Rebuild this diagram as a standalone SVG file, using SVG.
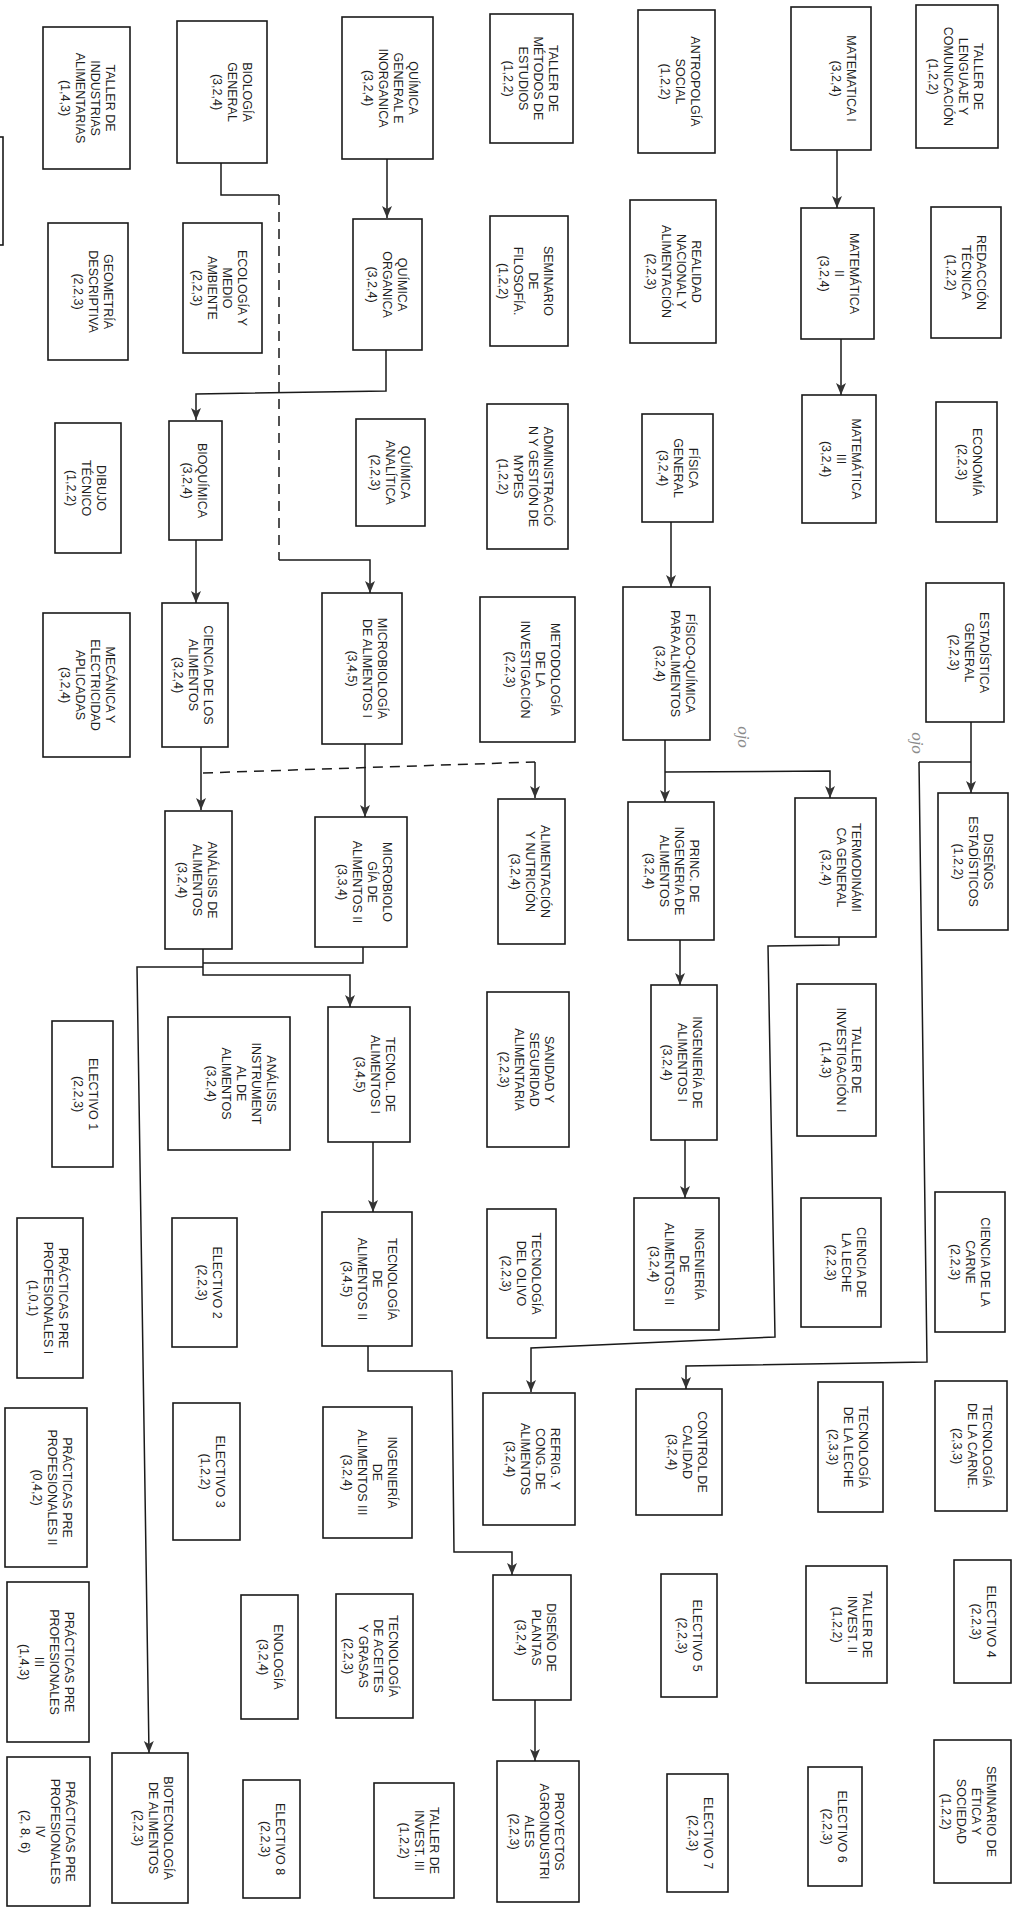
<svg xmlns="http://www.w3.org/2000/svg" width="1016" height="1909" viewBox="0 0 1016 1909">
<style>
.b{fill:#fff;stroke:#1a1a1a;stroke-width:1.6}
.t{font-family:"Liberation Sans",Arial,sans-serif;font-size:12.5px;fill:#1e1e1e;text-anchor:middle}
.c{fill:none;stroke:#1a1a1a;stroke-width:1.5}
.a{marker-end:url(#ah)}
.d{fill:none;stroke:#1a1a1a;stroke-width:1.5;stroke-dasharray:10,7}
.h{font-family:"Liberation Serif",serif;font-style:italic;font-size:17px;fill:#8a8a8a;text-anchor:middle}
</style>
<defs>
<marker id="ah" markerUnits="userSpaceOnUse" markerWidth="12" markerHeight="12" viewBox="0 0 12 12" refX="12" refY="6" orient="auto">
<path d="M0,1 L12,6 L0,11 L3,6 Z" fill="#333"/>
</marker>
</defs>
<rect width="1016" height="1909" fill="#fff"/>
<g id="connectors">
<path class="c" d="M221,163 V195 H279"/>
<path class="d" d="M279,195 V560"/>
<path class="c a" d="M279,560 H370 V593"/>
<path class="c a" d="M387,159 V218"/>
<path class="c a" d="M386,350 V391 L196,394 V420"/>
<path class="c a" d="M196,540 V603"/>
<path class="c a" d="M201,747 V810"/>
<path class="d" d="M203,773 L535,762"/>
<path class="c a" d="M535,762 V798"/>
<path class="c a" d="M365,744 V817"/>
<path class="c a" d="M837,150 V208"/>
<path class="c a" d="M841,339 V395"/>
<path class="c a" d="M671,522 V587"/>
<path class="c a" d="M665,740 V802"/>
<path class="c a" d="M665,772 L830,771 V798"/>
<path class="c a" d="M971,722 V793"/>
<path class="c" d="M919,762 H971"/>
<path class="c a" d="M919,762 L927,1362 L686,1366 V1389"/>
<path class="c a" d="M839,937 V945 L768,946 L775,1337 L531,1348 V1392"/>
<path class="c a" d="M680,940 V985"/>
<path class="c a" d="M685,1140 V1198"/>
<path class="c" d="M363,947 V963 H203"/>
<path class="c a" d="M203,949 V975 H350 V1007"/>
<path class="c a" d="M203,967 H137 L149,1753"/>
<path class="c a" d="M373,1142 V1212"/>
<path class="c a" d="M368,1346 V1371 H452 L454,1552 H512 V1575"/>
<path class="c a" d="M535,1700 V1761"/>
</g>
<g id="n-partial"><rect class="b" x="-20" y="137" width="23" height="108"/></g>
<g id="n-taller-industrias"><rect class="b" x="43" y="27" width="87" height="142"/><text class="t" transform="translate(105.5,98) rotate(90)"><tspan x="0">TALLER DE</tspan><tspan x="0" dy="15">INDUSTRIAS</tspan><tspan x="0" dy="15">ALIMENTARIAS</tspan><tspan x="0" dy="15">(1,4,3)</tspan></text></g>
<g id="n-biologia"><rect class="b" x="177" y="21" width="90" height="142"/><text class="t" transform="translate(242.5,92) rotate(90)"><tspan x="0">BIOLOGÍA</tspan><tspan x="0" dy="15">GENERAL</tspan><tspan x="0" dy="15">(3,2,4)</tspan></text></g>
<g id="n-quimica-general"><rect class="b" x="342" y="17" width="91" height="142"/><text class="t" transform="translate(408.5,88) rotate(90)"><tspan x="0">QUÍMICA</tspan><tspan x="0" dy="15">GENERAL E</tspan><tspan x="0" dy="15">INORGANICA</tspan><tspan x="0" dy="15">(3,2,4)</tspan></text></g>
<g id="n-metodos-estudios"><rect class="b" x="490" y="14" width="83" height="129"/><text class="t" transform="translate(548.5,78.5) rotate(90)"><tspan x="0">TALLER DE</tspan><tspan x="0" dy="15">MÉTODOS DE</tspan><tspan x="0" dy="15">ESTUDIOS</tspan><tspan x="0" dy="15">(1,2,2)</tspan></text></g>
<g id="n-antropologia"><rect class="b" x="638" y="10" width="77" height="143"/><text class="t" transform="translate(690.5,81.5) rotate(90)"><tspan x="0">ANTROPOLGÍA</tspan><tspan x="0" dy="15">SOCIAL</tspan><tspan x="0" dy="15">(1,2,2)</tspan></text></g>
<g id="n-matematica1"><rect class="b" x="791" y="7" width="80" height="143"/><text class="t" transform="translate(846.5,78.5) rotate(90)"><tspan x="0">MATEMATICA I</tspan><tspan x="0" dy="15">(3,2,4)</tspan></text></g>
<g id="n-lenguaje"><rect class="b" x="916" y="5" width="82" height="143"/><text class="t" transform="translate(973.5,76.5) rotate(90)"><tspan x="0">TALLER DE</tspan><tspan x="0" dy="15">LENGUAJE Y</tspan><tspan x="0" dy="15">COMUNICACIÓN</tspan><tspan x="0" dy="15">(1,2,2)</tspan></text></g>
<g id="n-geometria"><rect class="b" x="48" y="223" width="80" height="137"/><text class="t" transform="translate(103.5,291.5) rotate(90)"><tspan x="0">GEOMETRÍA</tspan><tspan x="0" dy="15">DESCRIPTIVA</tspan><tspan x="0" dy="15">(2,2,3)</tspan></text></g>
<g id="n-ecologia"><rect class="b" x="183" y="223" width="79" height="130"/><text class="t" transform="translate(237.5,288) rotate(90)"><tspan x="0">ECOLOGÍA Y</tspan><tspan x="0" dy="15">MEDIO</tspan><tspan x="0" dy="15">AMBIENTE</tspan><tspan x="0" dy="15">(2,2,3)</tspan></text></g>
<g id="n-quimica-organica"><rect class="b" x="353" y="219" width="69" height="131"/><text class="t" transform="translate(397.5,284.5) rotate(90)"><tspan x="0">QUÍMICA</tspan><tspan x="0" dy="15">ORGANICA</tspan><tspan x="0" dy="15">(3,2,4)</tspan></text></g>
<g id="n-filosofia"><rect class="b" x="490" y="216" width="78" height="130"/><text class="t" transform="translate(543.5,281) rotate(90)"><tspan x="0">SEMINARIO</tspan><tspan x="0" dy="15">DE</tspan><tspan x="0" dy="15">FILOSOFÍA.</tspan><tspan x="0" dy="15">(1,2,2)</tspan></text></g>
<g id="n-realidad"><rect class="b" x="630" y="200" width="86" height="143"/><text class="t" transform="translate(691.5,271.5) rotate(90)"><tspan x="0">REALIDAD</tspan><tspan x="0" dy="15">NACIONAL Y</tspan><tspan x="0" dy="15">ALIMENTACIÓN</tspan><tspan x="0" dy="15">(2,2,3)</tspan></text></g>
<g id="n-matematica2"><rect class="b" x="801" y="208" width="73" height="131"/><text class="t" transform="translate(849.5,273.5) rotate(90)"><tspan x="0">MATEMÁTICA</tspan><tspan x="0" dy="15">II</tspan><tspan x="0" dy="15">(3,2,4)</tspan></text></g>
<g id="n-redaccion"><rect class="b" x="931" y="207" width="70" height="131"/><text class="t" transform="translate(976.5,272.5) rotate(90)"><tspan x="0">REDACCIÓN</tspan><tspan x="0" dy="15">TÉCNICA</tspan><tspan x="0" dy="15">(1,2,2)</tspan></text></g>
<g id="n-dibujo"><rect class="b" x="55" y="423" width="66" height="130"/><text class="t" transform="translate(96.5,488) rotate(90)"><tspan x="0">DIBUJO</tspan><tspan x="0" dy="15">TÉCNICO</tspan><tspan x="0" dy="15">(1,2,2)</tspan></text></g>
<g id="n-bioquimica"><rect class="b" x="169" y="421" width="53" height="119"/><text class="t" transform="translate(197.5,480.5) rotate(90)"><tspan x="0">BIOQUÍMICA</tspan><tspan x="0" dy="15">(3,2,4)</tspan></text></g>
<g id="n-quimica-analitica"><rect class="b" x="356" y="419" width="69" height="107"/><text class="t" transform="translate(400.5,472.5) rotate(90)"><tspan x="0">QUÍMICA</tspan><tspan x="0" dy="15">ANALÍTICA</tspan><tspan x="0" dy="15">(2,2,3)</tspan></text></g>
<g id="n-administracion"><rect class="b" x="487" y="404" width="81" height="145"/><text class="t" transform="translate(543.5,476.5) rotate(90)"><tspan x="0">ADMINISTRACIÓ</tspan><tspan x="0" dy="15">N Y GESTIÓN DE</tspan><tspan x="0" dy="15">MYPES</tspan><tspan x="0" dy="15">(1,2,2)</tspan></text></g>
<g id="n-fisica"><rect class="b" x="642" y="414" width="71" height="108"/><text class="t" transform="translate(688.5,468) rotate(90)"><tspan x="0">FÍSICA</tspan><tspan x="0" dy="15">GENERAL</tspan><tspan x="0" dy="15">(3,2,4)</tspan></text></g>
<g id="n-matematica3"><rect class="b" x="802" y="395" width="74" height="128"/><text class="t" transform="translate(851.5,459) rotate(90)"><tspan x="0">MATEMÁTICA</tspan><tspan x="0" dy="15">III</tspan><tspan x="0" dy="15">(3,2,4)</tspan></text></g>
<g id="n-economia"><rect class="b" x="936" y="402" width="61" height="120"/><text class="t" transform="translate(972.5,462) rotate(90)"><tspan x="0">ECONOMÍA</tspan><tspan x="0" dy="15">(2,2,3)</tspan></text></g>
<g id="n-mecanica"><rect class="b" x="43" y="613" width="87" height="144"/><text class="t" transform="translate(105.5,685) rotate(90)"><tspan x="0">MECÁNICA Y</tspan><tspan x="0" dy="15">ELECTRICIDAD</tspan><tspan x="0" dy="15">APLICADAS</tspan><tspan x="0" dy="15">(3,2,4)</tspan></text></g>
<g id="n-ciencia-alimentos"><rect class="b" x="162" y="603" width="66" height="144"/><text class="t" transform="translate(203.5,675) rotate(90)"><tspan x="0">CIENCIA DE LOS</tspan><tspan x="0" dy="15">ALIMENTOS</tspan><tspan x="0" dy="15">(3,2,4)</tspan></text></g>
<g id="n-microbiologia1"><rect class="b" x="322" y="593" width="80" height="151"/><text class="t" transform="translate(377.5,668.5) rotate(90)"><tspan x="0">MICROBIOLOGÍA</tspan><tspan x="0" dy="15">DE ALIMENTOS I</tspan><tspan x="0" dy="15">(3,4,5)</tspan></text></g>
<g id="n-metodologia"><rect class="b" x="480" y="597" width="95" height="145"/><text class="t" transform="translate(550.5,669.5) rotate(90)"><tspan x="0">METODOLOGÍA</tspan><tspan x="0" dy="15">DE LA</tspan><tspan x="0" dy="15">INVESTIGACIÓN</tspan><tspan x="0" dy="15">(2,2,3)</tspan></text></g>
<g id="n-fisicoquimica"><rect class="b" x="623" y="587" width="87" height="153"/><text class="t" transform="translate(685.5,663.5) rotate(90)"><tspan x="0">FÍSICO-QUÍMICA</tspan><tspan x="0" dy="15">PARA ALIMENTOS</tspan><tspan x="0" dy="15">(3,2,4)</tspan></text></g>
<g id="n-estadistica"><rect class="b" x="926" y="583" width="78" height="139"/><text class="t" transform="translate(979.5,652.5) rotate(90)"><tspan x="0">ESTADÍSTICA</tspan><tspan x="0" dy="15">GENERAL</tspan><tspan x="0" dy="15">(2,2,3)</tspan></text></g>
<g id="n-analisis"><rect class="b" x="165" y="811" width="67" height="138"/><text class="t" transform="translate(207.5,880) rotate(90)"><tspan x="0">ANÁLISIS DE</tspan><tspan x="0" dy="15">ALIMENTOS</tspan><tspan x="0" dy="15">(3,2,4)</tspan></text></g>
<g id="n-microbiologia2"><rect class="b" x="315" y="817" width="92" height="130"/><text class="t" transform="translate(382.5,882) rotate(90)"><tspan x="0">MICROBIOLO</tspan><tspan x="0" dy="15">GÍA DE</tspan><tspan x="0" dy="15">ALIMENTOS II</tspan><tspan x="0" dy="15">(3,3,4)</tspan></text></g>
<g id="n-alimentacion"><rect class="b" x="498" y="799" width="67" height="145"/><text class="t" transform="translate(540.5,871.5) rotate(90)"><tspan x="0">ALIMENTACIÓN</tspan><tspan x="0" dy="15">Y NUTRICIÓN</tspan><tspan x="0" dy="15">(3,2,4)</tspan></text></g>
<g id="n-principios"><rect class="b" x="628" y="802" width="86" height="138"/><text class="t" transform="translate(689.5,871) rotate(90)"><tspan x="0">PRINC. DE</tspan><tspan x="0" dy="15">INGENERIA DE</tspan><tspan x="0" dy="15">ALIMENTOS</tspan><tspan x="0" dy="15">(3,2,4)</tspan></text></g>
<g id="n-termodinamica"><rect class="b" x="795" y="798" width="81" height="139"/><text class="t" transform="translate(851.5,867.5) rotate(90)"><tspan x="0">TERMODINÁMI</tspan><tspan x="0" dy="15">CA GENERAL</tspan><tspan x="0" dy="15">(3,2,4)</tspan></text></g>
<g id="n-disenos"><rect class="b" x="938" y="793" width="70" height="137"/><text class="t" transform="translate(983.5,861.5) rotate(90)"><tspan x="0">DISEÑOS</tspan><tspan x="0" dy="15">ESTADÍSTICOS</tspan><tspan x="0" dy="15">(1,2,2)</tspan></text></g>
<g id="n-electivo1"><rect class="b" x="52" y="1021" width="61" height="146"/><text class="t" transform="translate(88.5,1094) rotate(90)"><tspan x="0">ELECTIVO 1</tspan><tspan x="0" dy="15">(2,2,3)</tspan></text></g>
<g id="n-instrumental"><rect class="b" x="168" y="1017" width="122" height="133"/><text class="t" transform="translate(266.5,1083.5) rotate(90)"><tspan x="0">ANÁLISIS</tspan><tspan x="0" dy="15">INSTRUMENT</tspan><tspan x="0" dy="15">AL DE</tspan><tspan x="0" dy="15">ALIMENTOS</tspan><tspan x="0" dy="15">(3,2,4)</tspan></text></g>
<g id="n-tecnol1"><rect class="b" x="328" y="1007" width="82" height="135"/><text class="t" transform="translate(385.5,1074.5) rotate(90)"><tspan x="0">TECNOL. DE</tspan><tspan x="0" dy="15">ALIMENTOS I</tspan><tspan x="0" dy="15">(3,4,5)</tspan></text></g>
<g id="n-sanidad"><rect class="b" x="487" y="992" width="82" height="155"/><text class="t" transform="translate(544.5,1069.5) rotate(90)"><tspan x="0">SANIDAD Y</tspan><tspan x="0" dy="15">SEGURIDAD</tspan><tspan x="0" dy="15">ALIMENTARIA</tspan><tspan x="0" dy="15">(2,2,3)</tspan></text></g>
<g id="n-ingenieria1"><rect class="b" x="651" y="985" width="66" height="155"/><text class="t" transform="translate(692.5,1062.5) rotate(90)"><tspan x="0">INGENIERÍA DE</tspan><tspan x="0" dy="15">ALIMENTOS I</tspan><tspan x="0" dy="15">(3,2,4)</tspan></text></g>
<g id="n-taller-inv1"><rect class="b" x="797" y="984" width="79" height="152"/><text class="t" transform="translate(851.5,1060) rotate(90)"><tspan x="0">TALLER DE</tspan><tspan x="0" dy="15">INVESTIGACIÓN I</tspan><tspan x="0" dy="15">(1,4,3)</tspan></text></g>
<g id="n-practicas1"><rect class="b" x="17" y="1218" width="66" height="160"/><text class="t" transform="translate(58.5,1298) rotate(90)"><tspan x="0">PRÁCTICAS PRE</tspan><tspan x="0" dy="15">PROFESIONALES I</tspan><tspan x="0" dy="15">(1,0,1)</tspan></text></g>
<g id="n-electivo2"><rect class="b" x="172" y="1218" width="65" height="129"/><text class="t" transform="translate(212.5,1282.5) rotate(90)"><tspan x="0">ELECTIVO 2</tspan><tspan x="0" dy="15">(2,2,3)</tspan></text></g>
<g id="n-tecnologia2"><rect class="b" x="322" y="1212" width="90" height="134"/><text class="t" transform="translate(387.5,1279) rotate(90)"><tspan x="0">TECNOLOGÍA</tspan><tspan x="0" dy="15">DE</tspan><tspan x="0" dy="15">ALIMENTOS II</tspan><tspan x="0" dy="15">(3,4,5)</tspan></text></g>
<g id="n-olivo"><rect class="b" x="487" y="1209" width="69" height="129"/><text class="t" transform="translate(531.5,1273.5) rotate(90)"><tspan x="0">TECNOLOGÍA</tspan><tspan x="0" dy="15">DEL OLIVO</tspan><tspan x="0" dy="15">(2,2,3)</tspan></text></g>
<g id="n-ingenieria2"><rect class="b" x="634" y="1198" width="85" height="132"/><text class="t" transform="translate(694.5,1264) rotate(90)"><tspan x="0">INGENIERÍA</tspan><tspan x="0" dy="15">DE</tspan><tspan x="0" dy="15">ALIMENTOS II</tspan><tspan x="0" dy="15">(3,2,4)</tspan></text></g>
<g id="n-ciencia-leche"><rect class="b" x="801" y="1198" width="80" height="129"/><text class="t" transform="translate(856.5,1262.5) rotate(90)"><tspan x="0">CIENCIA DE</tspan><tspan x="0" dy="15">LA LECHE</tspan><tspan x="0" dy="15">(2,2,3)</tspan></text></g>
<g id="n-ciencia-carne"><rect class="b" x="935" y="1192" width="70" height="140"/><text class="t" transform="translate(980.5,1262) rotate(90)"><tspan x="0">CIENCIA DE LA</tspan><tspan x="0" dy="15">CARNE</tspan><tspan x="0" dy="15">(2,2,3)</tspan></text></g>
<g id="n-practicas2"><rect class="b" x="5" y="1408" width="82" height="159"/><text class="t" transform="translate(62.5,1487.5) rotate(90)"><tspan x="0">PRÁCTICAS PRE</tspan><tspan x="0" dy="15">PROFESIONALES II</tspan><tspan x="0" dy="15">(0,4,2)</tspan></text></g>
<g id="n-electivo3"><rect class="b" x="173" y="1403" width="67" height="137"/><text class="t" transform="translate(215.5,1471.5) rotate(90)"><tspan x="0">ELECTIVO 3</tspan><tspan x="0" dy="15">(1,2,2)</tspan></text></g>
<g id="n-ingenieria3"><rect class="b" x="323" y="1407" width="89" height="131"/><text class="t" transform="translate(387.5,1472.5) rotate(90)"><tspan x="0">INGENIERÍA</tspan><tspan x="0" dy="15">DE</tspan><tspan x="0" dy="15">ALIMENTOS III</tspan><tspan x="0" dy="15">(3,2,4)</tspan></text></g>
<g id="n-refrigeracion"><rect class="b" x="483" y="1393" width="92" height="132"/><text class="t" transform="translate(550.5,1459) rotate(90)"><tspan x="0">REFRIG. Y</tspan><tspan x="0" dy="15">CONG. DE</tspan><tspan x="0" dy="15">ALIMENTOS</tspan><tspan x="0" dy="15">(3,2,4)</tspan></text></g>
<g id="n-control"><rect class="b" x="636" y="1389" width="86" height="126"/><text class="t" transform="translate(697.5,1452) rotate(90)"><tspan x="0">CONTROL DE</tspan><tspan x="0" dy="15">CALIDAD</tspan><tspan x="0" dy="15">(3,2,4)</tspan></text></g>
<g id="n-tec-leche"><rect class="b" x="818" y="1382" width="65" height="130"/><text class="t" transform="translate(858.5,1447) rotate(90)"><tspan x="0">TECNOLOGÍA</tspan><tspan x="0" dy="15">DE LA LECHE</tspan><tspan x="0" dy="15">(2,3,3)</tspan></text></g>
<g id="n-tec-carne"><rect class="b" x="935" y="1381" width="72" height="130"/><text class="t" transform="translate(982.5,1446) rotate(90)"><tspan x="0">TECNOLOGÍA</tspan><tspan x="0" dy="15">DE LA CARNE.</tspan><tspan x="0" dy="15">(2,3,3)</tspan></text></g>
<g id="n-practicas3"><rect class="b" x="7" y="1582" width="82" height="160"/><text class="t" transform="translate(64.5,1662) rotate(90)"><tspan x="0">PRÁCTICAS PRE</tspan><tspan x="0" dy="15">PROFESIONALES</tspan><tspan x="0" dy="15">III</tspan><tspan x="0" dy="15">(1,4,3)</tspan></text></g>
<g id="n-enologia"><rect class="b" x="241" y="1595" width="57" height="124"/><text class="t" transform="translate(273.5,1657) rotate(90)"><tspan x="0">ENOLOGÍA</tspan><tspan x="0" dy="15">(3,2,4)</tspan></text></g>
<g id="n-aceites"><rect class="b" x="336" y="1594" width="77" height="124"/><text class="t" transform="translate(388.5,1656) rotate(90)"><tspan x="0">TECNOLOGÍA</tspan><tspan x="0" dy="15">DE ACEITES</tspan><tspan x="0" dy="15">Y GRASAS</tspan><tspan x="0" dy="15">(2,2,3)</tspan></text></g>
<g id="n-diseno-plantas"><rect class="b" x="493" y="1575" width="78" height="125"/><text class="t" transform="translate(546.5,1637.5) rotate(90)"><tspan x="0">DISEÑO DE</tspan><tspan x="0" dy="15">PLANTAS</tspan><tspan x="0" dy="15">(3,2,4)</tspan></text></g>
<g id="n-electivo5"><rect class="b" x="661" y="1574" width="56" height="123"/><text class="t" transform="translate(692.5,1635.5) rotate(90)"><tspan x="0">ELECTIVO 5</tspan><tspan x="0" dy="15">(2,2,3)</tspan></text></g>
<g id="n-taller-inv2"><rect class="b" x="806" y="1566" width="81" height="117"/><text class="t" transform="translate(862.5,1624.5) rotate(90)"><tspan x="0">TALLER DE</tspan><tspan x="0" dy="15">INVEST. II</tspan><tspan x="0" dy="15">(1,2,2)</tspan></text></g>
<g id="n-electivo4"><rect class="b" x="954" y="1560" width="57" height="123"/><text class="t" transform="translate(986.5,1621.5) rotate(90)"><tspan x="0">ELECTIVO 4</tspan><tspan x="0" dy="15">(2,2,3)</tspan></text></g>
<g id="n-practicas4"><rect class="b" x="7" y="1757" width="83" height="149"/><text class="t" transform="translate(65.5,1831.5) rotate(90)"><tspan x="0">PRÁCTICAS PRE</tspan><tspan x="0" dy="15">PROFESIONALES</tspan><tspan x="0" dy="15">IV</tspan><tspan x="0" dy="15">(2, 8, 6)</tspan></text></g>
<g id="n-biotecnologia"><rect class="b" x="112" y="1753" width="76" height="150"/><text class="t" transform="translate(163.5,1828) rotate(90)"><tspan x="0">BIOTECNOLOGÍA</tspan><tspan x="0" dy="15">DE ALIMENTOS</tspan><tspan x="0" dy="15">(2,2,3)</tspan></text></g>
<g id="n-electivo8"><rect class="b" x="243" y="1780" width="57" height="118"/><text class="t" transform="translate(275.5,1839) rotate(90)"><tspan x="0">ELECTIVO 8</tspan><tspan x="0" dy="15">(2,2,3)</tspan></text></g>
<g id="n-taller-inv3"><rect class="b" x="374" y="1783" width="80" height="115"/><text class="t" transform="translate(429.5,1840.5) rotate(90)"><tspan x="0">TALLER DE</tspan><tspan x="0" dy="15">INVEST. III</tspan><tspan x="0" dy="15">(1,2,2)</tspan></text></g>
<g id="n-proyectos"><rect class="b" x="497" y="1761" width="82" height="141"/><text class="t" transform="translate(554.5,1831.5) rotate(90)"><tspan x="0">PROYECTOS</tspan><tspan x="0" dy="15">AGROINDUSTRI</tspan><tspan x="0" dy="15">ALES</tspan><tspan x="0" dy="15">(2,2,3)</tspan></text></g>
<g id="n-electivo7"><rect class="b" x="667" y="1774" width="61" height="118"/><text class="t" transform="translate(703.5,1833) rotate(90)"><tspan x="0">ELECTIVO 7</tspan><tspan x="0" dy="15">(2,2,3)</tspan></text></g>
<g id="n-electivo6"><rect class="b" x="808" y="1767" width="54" height="119"/><text class="t" transform="translate(837.5,1826.5) rotate(90)"><tspan x="0">ELECTIVO 6</tspan><tspan x="0" dy="15">(2,2,3)</tspan></text></g>
<g id="n-etica"><rect class="b" x="934" y="1740" width="77" height="143"/><text class="t" transform="translate(986.5,1811.5) rotate(90)"><tspan x="0">SEMINARIO DE</tspan><tspan x="0" dy="15">ÉTICA Y</tspan><tspan x="0" dy="15">SOCIEDAD</tspan><tspan x="0" dy="15">(1,2,2)</tspan></text></g>
<g id="annotations">
<text class="h" transform="translate(738,737) rotate(90)">ojo</text>
<text class="h" transform="translate(912,743) rotate(90)">ojo</text>
</g>
</svg>
